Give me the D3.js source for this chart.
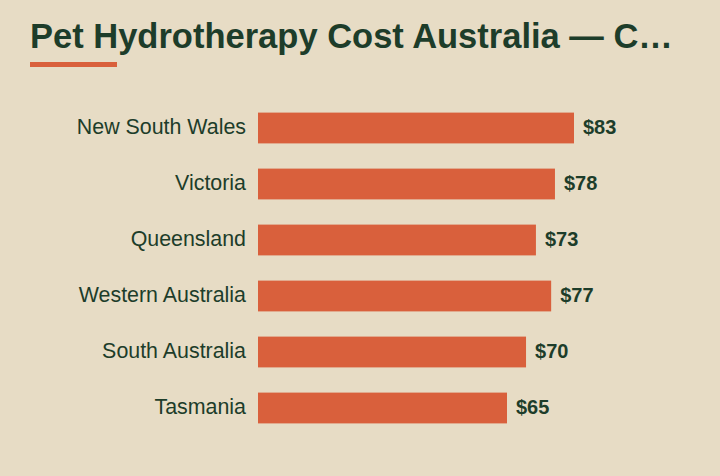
<!DOCTYPE html>
<html>
  <head>
    <meta charset="utf-8">
    <title>Pet Hydrotherapy Cost Australia</title>
    <script src="https://cdn.jsdelivr.net/npm/d3@7"></script>
    <style>
      body { margin: 0; background: #e7dcc5; }
      svg { display: block; font-family: "Liberation Sans", Arial, sans-serif; }
    </style>
  </head>
  <body>
    <svg id="chart" width="720" height="476"></svg>

    <script>
      // data
      states = ["New South Wales", "Victoria", "Queensland", "Western Australia", "South Australia", "Tasmania"];
      costs = [83, 78, 73, 77, 70.4, 65.4];
      titleText = "Pet Hydrotherapy Cost Australia \u2014 C\u2026";

      ink = "#1d3d2a";
      accent = "#d9603c";
      money = d3.format("$.0f");

      chart = d3.select("#chart");
      chart.append("rect")
        .attr("width", 720)
        .attr("height", 476)
        .attr("fill", "#e7dcc5");

      // title + rule
      chart.append("text")
        .attr("x", 30)
        .attr("y", 48)
        .attr("fill", ink)
        .style("font-size", "34.5px")
        .style("font-weight", "bold")
        .text(titleText);
      chart.append("rect")
        .attr("x", 30)
        .attr("y", 62)
        .attr("width", 87)
        .attr("height", 5)
        .attr("fill", accent);

      // scales
      x = d3.scaleLinear()
        .domain([0, 83])
        .range([258, 574]);

      y = d3.scaleBand()
        .domain(states)
        .range([100, 436])
        .paddingInner(0.45)
        .paddingOuter(0.225);

      rows = chart.append("g")
        .selectAll("g")
          .data(states)
        .enter().append("g");

      rows.append("rect")
        .attr("x", x(0))
        .attr("y", d => y(d))
        .attr("width", (d, i) => x(costs[i]) - x(0))
        .attr("height", y.bandwidth())
        .attr("fill", accent);

      rows.append("text")
        .attr("x", x(0) - 12)
        .attr("y", d => y(d) + y.bandwidth() / 2)
        .attr("dy", "0.28em")
        .attr("text-anchor", "end")
        .attr("fill", ink)
        .style("font-size", "21.4px")
        .text(d => d);

      rows.append("text")
        .attr("x", (d, i) => x(costs[i]) + 9)
        .attr("y", d => y(d) + y.bandwidth() / 2)
        .attr("dy", "0.3em")
        .attr("fill", ink)
        .style("font-size", "20px")
        .style("font-weight", "bold")
        .text((d, i) => money(costs[i]));
    </script>
  </body>
</html>
